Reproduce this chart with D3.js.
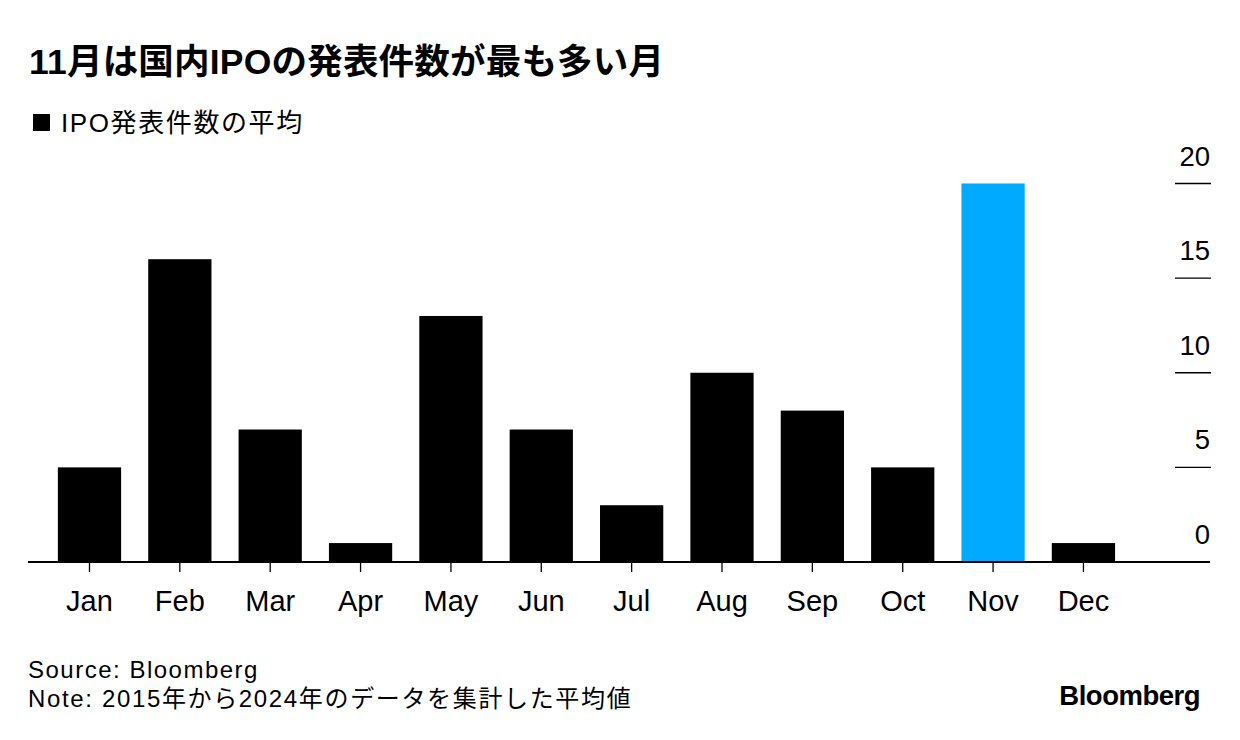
<!DOCTYPE html>
<html><head><meta charset="utf-8">
<script src="https://cdn.jsdelivr.net/npm/d3@7"></script>
<style>
body{margin:0;background:#fff;}
text{font-family:"Liberation Sans","Noto Sans CJK JP",sans-serif;}
</style></head>
<body><svg id="c" width="1240" height="740"></svg>
<script>
const months = ["Jan","Feb","Mar","Apr","May","Jun","Jul","Aug","Sep","Oct","Nov","Dec"];
const values = [5,16,7,1,13,7,3,10,8,5,20,1];
const highlight = ["Nov"];
const yTicks = [0,5,10,15,20];
const title = "11月は国内IPOの発表件数が最も多い月";
const legendLabel = "IPO発表件数の平均";
const source = "Source: Bloomberg";
const note = "Note: 2015年から2024年のデータを集計した平均値";

const svg = d3.select("#c");
const jp = '"Noto Sans CJK JP","Liberation Sans",sans-serif';
const lat = '"Liberation Sans","Noto Sans CJK JP",sans-serif';

const x = d3.scaleBand().domain(months).range([44.3, 44.3 + 12*90.36]).paddingInner(0.3).paddingOuter(0.15);
const y = d3.scaleLinear().domain([0,20]).range([562, 183.5]);

svg.append("text").attr("x",29).attr("y",74).attr("font-size",35.5).attr("font-weight","bold")
  .attr("font-family",jp).attr("letter-spacing","0.2").text(title);

svg.append("rect").attr("x",33).attr("y",114).attr("width",17).attr("height",17).attr("fill","#000");
svg.append("text").attr("x",61).attr("y",132).attr("font-size",26).attr("font-family",jp).attr("letter-spacing","1.6").text(legendLabel);

// y ticks on right
const yg = svg.append("g");
yTicks.forEach(t=>{
  if(t>0) yg.append("line").attr("x1",1175).attr("x2",1211).attr("y1",y(t)).attr("y2",y(t)).attr("stroke","#000").attr("stroke-width",1.3);
  yg.append("text").attr("x",1210).attr("y",y(t)-18).attr("text-anchor","end").attr("font-size",27.5).attr("font-family",lat).text(t);
});

svg.append("g").selectAll("rect").data(months).join("rect")
  .attr("x",d=>x(d)).attr("width",x.bandwidth())
  .attr("y",(d,i)=>y(values[i])).attr("height",(d,i)=>y(0)-y(values[i]))
  .attr("fill",d=>highlight.includes(d)?"#00AAFF":"#000");

// x axis
const xa = svg.append("g").attr("transform","translate(0,562)")
  .call(d3.axisBottom(x).tickSize(10).tickPadding(18));
xa.select(".domain").remove();
xa.selectAll("line").attr("stroke","#000").attr("stroke-width",1.3);
xa.selectAll("text").attr("font-size",29).attr("font-family",lat).attr("fill","#000");
svg.append("line").attr("x1",28).attr("x2",1210).attr("y1",562).attr("y2",562).attr("stroke","#000").attr("stroke-width",2);

svg.append("text").attr("x",28).attr("y",678).attr("font-size",24).attr("letter-spacing","1.5").attr("font-family",jp).text(source);
svg.append("text").attr("x",28).attr("y",707).attr("font-size",24).attr("letter-spacing","1.65").attr("font-family",jp).text(note);
svg.append("text").attr("x",1200).attr("y",705).attr("text-anchor","end").attr("font-size",27.5).attr("font-weight","bold").attr("font-family",lat).attr("letter-spacing","-0.5").text("Bloomberg");
</script></body></html>
